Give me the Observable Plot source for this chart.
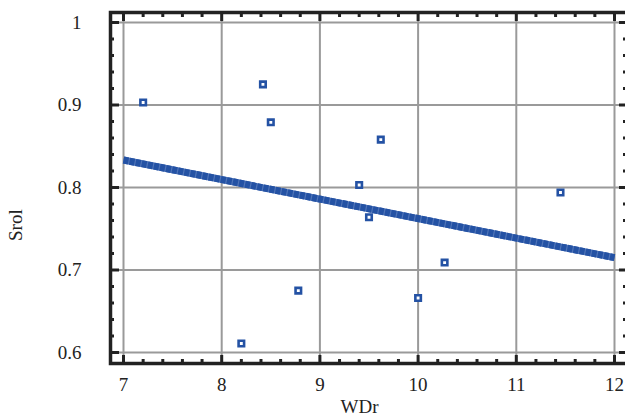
<!DOCTYPE html>
<html>
<head>
<meta charset="utf-8">
<script src="https://cdn.jsdelivr.net/npm/d3@7"></script>
<script src="https://cdn.jsdelivr.net/npm/@observablehq/plot@0.6"></script>
<style>
  html, body { margin: 0; padding: 0; background: #fff; }
  #chart svg { display: block; }
</style>
</head>
<body>
<div id="chart"></div>
<script>
// Scatter points
const wdr  = [7.20, 8.42, 8.50, 8.20, 8.78, 9.40, 9.50, 9.62, 10.00, 10.27, 11.45];
const srol = [0.903, 0.925, 0.879, 0.611, 0.675, 0.803, 0.764, 0.858, 0.666, 0.709, 0.794];
// Fitted line end points
const fitX = [7, 12];
const fitY = [0.8333, 0.715];
// Ticks
const xMajor = [7, 8, 9, 10, 11, 12];
const xMinor = [7.2, 7.4, 7.6, 7.8, 8.2, 8.4, 8.6, 8.8, 9.2, 9.4, 9.6, 9.8, 10.2, 10.4, 10.6, 10.8, 11.2, 11.4, 11.6, 11.8];
const yMajor = [0.6, 0.7, 0.8, 0.9, 1.0];
const yMinor = [0.62, 0.64, 0.66, 0.68, 0.72, 0.74, 0.76, 0.78, 0.82, 0.84, 0.86, 0.88, 0.92, 0.94, 0.96, 0.98];
const yTickLabels = ["0.6", "0.7", "0.8", "0.9", "1"];
const xLabel = "WDr";
const yLabel = "Srol";

const points = wdr.map((x, i) => ({x, y: srol[i]}));
const fit = fitX.map((x, i) => ({x, y: fitY[i]}));

const blue = "#2452a4";
const ink = "#222";
const noText = () => "";

const plot = Plot.plot({
  width: 625,
  height: 416,
  marginLeft: 110,
  marginRight: -3,
  marginTop: 12,
  marginBottom: 53,
  style: {fontFamily: "'Liberation Serif', 'DejaVu Serif', serif", fontSize: "19px", color: ink, background: "#fff"},
  x: {domain: [6.8676, 12.1426]},
  y: {domain: [0.58667, 1.01212]},
  marks: [
    Plot.gridX(xMajor, {stroke: "#9a9a9a", strokeOpacity: 1, strokeWidth: 2}),
    Plot.gridY(yMajor, {stroke: "#9a9a9a", strokeOpacity: 1, strokeWidth: 2}),
    Plot.line(fit, {x: "x", y: "y", stroke: "#4f74b8", strokeWidth: 7, strokeLinecap: "butt"}),
    Plot.line(fit, {x: "x", y: "y", stroke: blue, strokeWidth: 7, strokeLinecap: "butt", strokeDasharray: "5,1.2"}),
    Plot.dot(points, {x: "x", y: "y", symbol: "square", r: 3.1, stroke: blue, strokeWidth: 2.6, fill: "#fff"}),
    Plot.frame({stroke: ink, strokeWidth: 3.5}),
    // major ticks (inward)
    Plot.axisX(xMajor, {anchor: "bottom", tickSize: -8, strokeWidth: 3, stroke: ink, tickFormat: noText, label: null}),
    Plot.axisX(xMajor, {anchor: "top", tickSize: -8, strokeWidth: 3, stroke: ink, tickFormat: noText, label: null}),
    Plot.axisY(yMajor, {anchor: "left", tickSize: -9, strokeWidth: 3, stroke: ink, tickFormat: noText, label: null}),
    Plot.axisY(yMajor, {anchor: "right", tickSize: -10, strokeWidth: 3, stroke: ink, tickFormat: noText, label: null}),
    // minor ticks
    Plot.axisX(xMinor, {anchor: "bottom", tickSize: -4, strokeWidth: 3, stroke: ink, tickFormat: noText, label: null}),
    Plot.axisX(xMinor, {anchor: "top", tickSize: -4, strokeWidth: 3, stroke: ink, tickFormat: noText, label: null}),
    Plot.axisY(yMinor, {anchor: "left", tickSize: -4, strokeWidth: 3, stroke: ink, tickFormat: noText, label: null}),
    Plot.axisY(yMinor, {anchor: "right", tickSize: -6, strokeWidth: 3, stroke: ink, tickFormat: noText, label: null}),
    // tick labels
    Plot.axisX(xMajor, {anchor: "bottom", tickSize: 0, tickPadding: 14, fill: ink, label: null, tickFormat: d => String(d)}),
    Plot.axisY(yMajor, {anchor: "left", tickSize: 0, tickPadding: 29, fill: ink, label: null, tickFormat: (d, i) => yTickLabels[i]}),
    // axis titles
    Plot.text([xLabel], {frameAnchor: "bottom", text: d => d, dx: -10, dy: 43, lineAnchor: "middle", fill: ink}),
    Plot.text([yLabel], {frameAnchor: "left", text: d => d, rotate: -90, dx: -95, dy: 53, lineAnchor: "middle", fill: ink})
  ]
});
document.getElementById("chart").appendChild(plot);
</script>
</body>
</html>
